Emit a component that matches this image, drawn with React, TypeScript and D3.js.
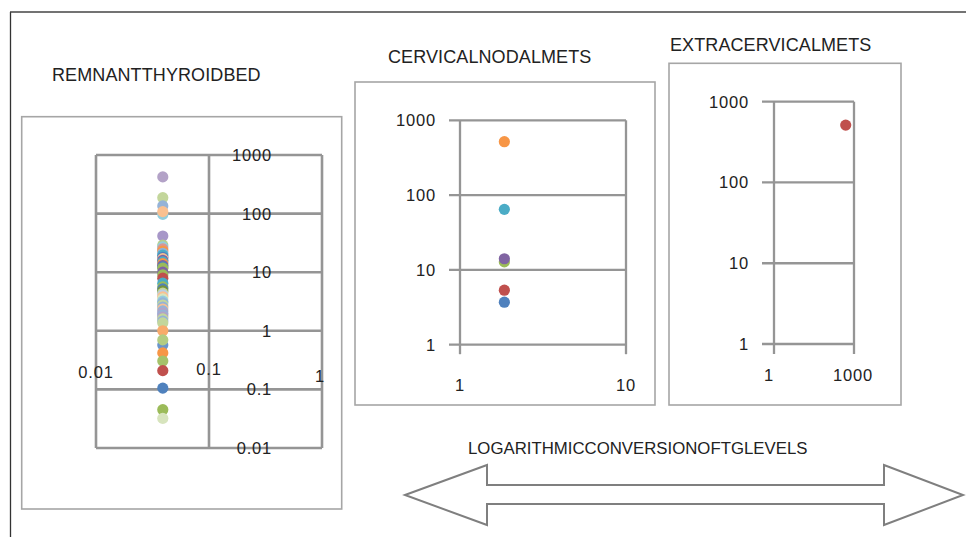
import React from "react";
import * as d3 from "d3";

// ---------- DATA ----------
const remnantX = 0.039;
const remnantValues = [
  423, 187, 135, 97, 108, 41.5, 29,
  27, 25, 23, 21, 19.5, 18, 17, 16, 15, 14, 13, 12.3, 11.7,
  10, 9, 7.9, 6.5,
  5.6, 5.2, 4.8, 4.4, 4.1, 3.8, 3.5, 3.2, 3.0, 2.75, 2.55, 2.35, 2.18, 2.0, 1.86, 1.72, 1.6, 1.47, 1.36,
  1.0, 0.57, 0.7, 0.42, 0.305, 0.209, 0.105, 0.045, 0.032,
];
const remnantColors = [
  "#B3A2C7", "#C3D69B", "#95B3D7", "#93CDDD", "#FAC090", "#A797C8", "#B5CF8A",
  "#93CDDD", "#D99694", "#F79646", "#95B3D7", "#4BACC6", "#4F81BD", "#FAC090", "#8064A2", "#4BACC6", "#F79646", "#8064A2", "#4F81BD", "#9BBB59",
  "#8064A2", "#9BBB59", "#C0504D", "#4BACC6",
  "#9BBB59", "#4F81BD", "#77933C", "#C3D69B", "#B9CDE5", "#FAC090", "#D7E4BD", "#93CDDD", "#95B3D7", "#C3D69B", "#95B3D7", "#FAC090", "#95B3D7", "#B3A2C7", "#95B3D7", "#B3A2C7", "#C3D69B", "#95B3D7", "#C3D69B",
  "#F9AB6B", "#6A95CB", "#B3CC82", "#F79646", "#A5C26A", "#C0504D", "#4F81BD", "#9BBB59", "#D7E4BD",
];
const remnantXTicks = [0.01, 0.1, 1];
const remnantYTicks = [0.01, 0.1, 1, 10, 100, 1000];

const cervicalX = 1.85;
const cervicalValues = [518, 64.5, 12.8, 14.1, 5.35, 3.7];
const cervicalColors = ["#F79646", "#4BACC6", "#9BBB59", "#8064A2", "#C0504D", "#4F81BD"];
const cervicalXTicks = [1, 10];
const cervicalYTicks = [1, 10, 100, 1000];

const extraX = [489];
const extraValues = [513];
const extraColors = ["#C0504D"];
const extraXTicks = [1, 1000];
const extraYTicks = [1, 10, 100, 1000];

const titles = ["REMNANTTHYROIDBED", "CERVICALNODALMETS", "EXTRACERVICALMETS"];
const arrowTitle = "LOGARITHMICCONVERSIONOFTGLEVELS";

const fmt = (v: number) => String(v);

const FONT = "'Liberation Sans', Arial, sans-serif";
const TXT = "#222";
const GRID = "#959595";
const BOX = "#A6A6A6";

export default function App() {
  // Left panel scales
  const lx = d3.scaleLog().domain([0.01, 1]).range([96, 322]);
  const ly = d3.scaleLog().domain([0.01, 1000]).range([448, 155]);
  // Middle
  const mx = d3.scaleLog().domain([1, 10]).range([460, 626]);
  const my = d3.scaleLog().domain([1, 1000]).range([344.7, 120.3]);
  // Right
  const rx = d3.scaleLog().domain([1, 1000]).range([774, 854]);
  const ry = d3.scaleLog().domain([1, 1000]).range([344, 101.7]);

  const textProps = { fontFamily: FONT, fill: TXT, fontSize: 16.5, letterSpacing: 0.8 } as const;
  const titleProps = { fontFamily: FONT, fill: TXT, fontSize: 18, letterSpacing: 0.1 } as const;

  const leftXLabelPos = [
    { dx: 0, y: 372 },
    { dx: 0, y: 369 },
    { dx: -2, y: 376 },
  ];

  const arrowPts: [number, number][] = [
    [405, 495], [487, 465], [487, 485], [884, 485], [884, 465],
    [963, 495], [884, 525], [884, 504], [487, 504], [487, 525],
  ];

  return (
    <svg width={966} height={537} style={{ position: "absolute", left: 0, top: 0, background: "#fff" }}>
      <rect x={0} y={0} width={966} height={537} fill="#fff" />
      {/* outer frame */}
      <line x1={10.5} y1={12} x2={10.5} y2={537} stroke="#333" strokeWidth={1.3} />
      <line x1={10} y1={12} x2={966} y2={12} stroke="#444" strokeWidth={1.3} />

      {/* ---------- LEFT PANEL ---------- */}
      <text x={52} y={75} dominantBaseline="central" {...titleProps}>{titles[0]}</text>
      <rect x={21.7} y={116.7} width={320} height={392.3} fill="none" stroke={BOX} strokeWidth={1.6} />
      {remnantYTicks.map((t) => (
        <line key={"lh" + t} x1={lx(0.01)} x2={lx(1)} y1={ly(t)} y2={ly(t)} stroke={GRID} strokeWidth={2.6} />
      ))}
      {remnantXTicks.map((t) => (
        <line key={"lv" + t} x1={lx(t)} x2={lx(t)} y1={ly(1000)} y2={ly(0.01)} stroke={GRID} strokeWidth={2.6} />
      ))}
      {remnantValues.map((v, i) => (
        <circle key={"lp" + i} cx={lx(remnantX)} cy={ly(v)} r={5.6} fill={remnantColors[i]} />
      ))}
      {remnantYTicks.map((t) => (
        <text key={"lyl" + t} x={272} y={ly(t)} textAnchor="end" dominantBaseline="central" {...textProps}>{fmt(t)}</text>
      ))}
      {remnantXTicks.map((t, i) => (
        <text key={"lxl" + t} x={lx(t) + leftXLabelPos[i].dx} y={leftXLabelPos[i].y} textAnchor="middle" dominantBaseline="central" {...textProps}>{fmt(t)}</text>
      ))}

      {/* ---------- MIDDLE PANEL ---------- */}
      <text x={388} y={57} dominantBaseline="central" {...titleProps}>{titles[1]}</text>
      <rect x={355} y={82} width={300} height={323} fill="none" stroke={BOX} strokeWidth={1.6} />
      {cervicalYTicks.map((t) => (
        <line key={"mh" + t} x1={mx(1) - 11} x2={mx(10)} y1={my(t)} y2={my(t)} stroke={GRID} strokeWidth={2.3} />
      ))}
      {cervicalXTicks.map((t) => (
        <line key={"mv" + t} x1={mx(t)} x2={mx(t)} y1={my(1000)} y2={my(1) + 9.5} stroke={GRID} strokeWidth={2.3} />
      ))}
      {cervicalValues.map((v, i) => (
        <circle key={"mp" + i} cx={mx(cervicalX)} cy={my(v)} r={5.6} fill={cervicalColors[i]} />
      ))}
      {cervicalYTicks.map((t) => (
        <text key={"myl" + t} x={436} y={my(t)} textAnchor="end" dominantBaseline="central" {...textProps}>{fmt(t)}</text>
      ))}
      {cervicalXTicks.map((t) => (
        <text key={"mxl" + t} x={mx(t)} y={384.5} textAnchor="middle" dominantBaseline="central" {...textProps}>{fmt(t)}</text>
      ))}

      {/* ---------- RIGHT PANEL ---------- */}
      <text x={670} y={45} dominantBaseline="central" {...titleProps}>{titles[2]}</text>
      <rect x={669} y={63.3} width={232} height={341.7} fill="none" stroke={BOX} strokeWidth={1.6} />
      {extraYTicks.map((t) => (
        <line key={"rh" + t} x1={rx(1) - 12} x2={rx(1000)} y1={ry(t)} y2={ry(t)} stroke={GRID} strokeWidth={2.3} />
      ))}
      {extraXTicks.map((t) => (
        <line key={"rv" + t} x1={rx(t)} x2={rx(t)} y1={ry(1000)} y2={ry(1) + 10} stroke={GRID} strokeWidth={2.3} />
      ))}
      {extraValues.map((v, i) => (
        <circle key={"rp" + i} cx={rx(extraX[i])} cy={ry(v)} r={5.6} fill={extraColors[i]} />
      ))}
      {extraYTicks.map((t) => (
        <text key={"ryl" + t} x={749} y={ry(t)} textAnchor="end" dominantBaseline="central" {...textProps}>{fmt(t)}</text>
      ))}
      {extraXTicks.map((t, i) => (
        <text key={"rxl" + t} x={rx(t) + (i === 0 ? -5 : -1)} y={375} textAnchor="middle" dominantBaseline="central" {...textProps}>{fmt(t)}</text>
      ))}

      {/* ---------- ARROW ---------- */}
      <text x={468} y={448} dominantBaseline="central" fontFamily={FONT} fill={TXT} fontSize={16.8}>{arrowTitle}</text>
      <polygon points={arrowPts.map((p) => p.join(",")).join(" ")} fill="#fff" stroke="#7F7F7F" strokeWidth={2} />
    </svg>
  );
}
